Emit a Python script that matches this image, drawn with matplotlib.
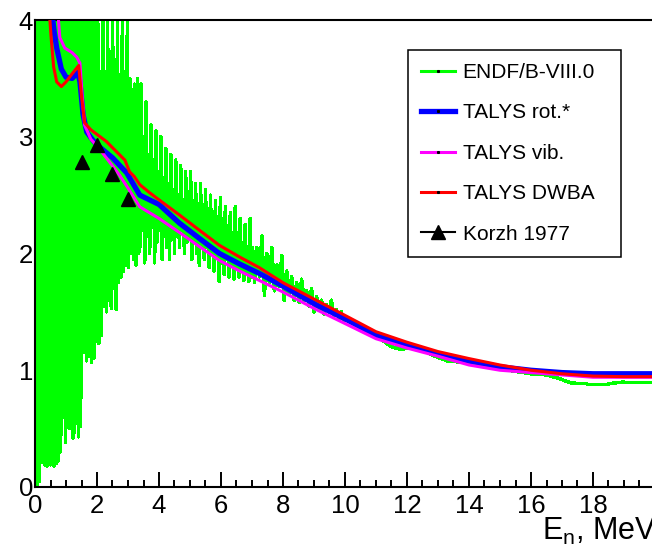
import matplotlib.pyplot as plt
from matplotlib.collections import LineCollection
from matplotlib.lines import Line2D
from matplotlib.ticker import MultipleLocator

plt.rcParams['font.family'] = ['Liberation Sans', 'DejaVu Sans']
plt.rcParams['mathtext.fontset'] = 'custom'
plt.rcParams['mathtext.rm'] = 'Liberation Sans'
plt.rcParams['mathtext.it'] = 'Liberation Sans:italic'

# ENDF/B-VIII.0 evaluation, MeV / barn (resonance region is very dense)
endf_e = [
    0.00, 0.02, 0.05, 0.08, 0.11, 0.14, 0.17, 0.20, 0.23, 0.26,
    0.29, 0.32, 0.35, 0.38, 0.41, 0.44, 0.47, 0.50, 0.53, 0.56,
    0.59, 0.62, 0.65, 0.68, 0.71, 0.74, 0.77, 0.80, 0.83, 0.86,
    0.89, 0.92, 0.95, 0.98, 1.01, 1.04, 1.07, 1.10, 1.13, 1.16,
    1.19, 1.22, 1.25, 1.28, 1.31, 1.34, 1.37, 1.40, 1.43, 1.46,
    1.50, 1.54, 1.58, 1.62, 1.66, 1.70, 1.74, 1.78, 1.82, 1.86,
    1.90, 1.94, 1.98, 2.02, 2.06, 2.10, 2.14, 2.18, 2.22, 2.26,
    2.30, 2.34, 2.38, 2.42, 2.46, 2.50, 2.54, 2.58, 2.62, 2.66,
    2.70, 2.74, 2.78, 2.82, 2.86, 2.90, 2.94, 2.98, 3.02, 3.06,
    3.10, 3.14, 3.18, 3.22, 3.26, 3.30, 3.34,
    3.38, 3.42, 3.46, 3.50, 3.54, 3.58, 3.62, 3.66, 3.70, 3.74,
    3.78, 3.82, 3.86, 3.90, 3.94, 3.98, 4.02, 4.06, 4.10, 4.14,
    4.18, 4.22, 4.26, 4.30, 4.34, 4.38, 4.42, 4.46, 4.50, 4.54,
    4.58, 4.62, 4.66, 4.70, 4.74, 4.78, 4.82, 4.86, 4.90, 4.94,
    4.98, 5.02, 5.06, 5.10, 5.14, 5.18, 5.22, 5.26, 5.30, 5.34,
    5.38, 5.42, 5.46, 5.50, 5.54, 5.58, 5.62, 5.66, 5.70, 5.74,
    5.78, 5.82, 5.86, 5.90, 5.94, 5.98, 6.02, 6.06, 6.10, 6.14,
    6.18, 6.22, 6.26, 6.30, 6.34, 6.38, 6.42, 6.46, 6.50, 6.54,
    6.58, 6.62, 6.66, 6.70, 6.74, 6.78, 6.82, 6.86, 6.90, 6.94,
    6.98, 7.02,
    7.08, 7.16, 7.24, 7.32,
    7.40, 7.48, 7.56, 7.64, 7.72, 7.80, 7.88, 7.96, 8.04, 8.12,
    8.20, 8.28, 8.36, 8.44, 8.52, 8.60, 8.68, 8.76, 8.84, 8.92,
    9.00, 9.08, 9.16, 9.24, 9.32, 9.40, 9.48, 9.56, 9.64, 9.72,
    9.80, 9.88, 9.96, 10.04,
    10.3, 10.6, 10.9, 11.2, 11.5, 11.8, 12.1, 12.5, 12.9, 13.3,
    13.7, 14.1, 14.5, 15.0, 15.5, 16.0, 16.5, 16.9, 17.3, 17.8,
    18.5, 19.0, 19.5, 20.0,
]
endf_xs = [
    4.6, 0.0, 4.4, 0.02, 4.8, 0.05, 4.5, 0.21, 4.9, 0.25,
    4.3, 0.19, 4.7, 0.18, 5.1, 0.20, 4.4, 0.19, 4.6, 0.21,
    4.8, 0.18, 4.5, 0.20, 5.0, 0.22, 4.4, 0.30, 4.7, 0.45,
    4.9, 0.60, 4.3, 0.38, 4.6, 0.90, 4.8, 0.50, 4.4, 0.62,
    4.7, 0.42, 4.5, 0.47, 4.9, 0.55, 4.4, 0.43, 4.6, 0.52,
    1.11, 4.6, 1.15, 4.4, 1.08, 4.7, 1.12, 4.3, 1.07, 4.5,
    1.10, 4.6, 1.25, 4.3, 1.23, 3.45, 1.30, 4.4, 1.55, 3.4,
    1.50, 4.2, 1.60, 3.5, 1.53, 4.3, 1.70, 3.35, 1.52, 4.1,
    1.75, 3.45, 1.80, 4.2, 1.85, 3.4, 1.90, 4.1, 1.88, 3.5,
    2.00, 3.4, 1.95, 3.45, 1.90, 3.5, 2.00,
    2.05, 3.45, 2.20, 3.00, 1.92, 3.30, 2.15, 2.85, 2.00, 3.10,
    2.25, 2.80, 1.92, 3.05, 2.10, 2.70, 2.20, 3.00, 1.95, 2.65,
    2.15, 2.90, 2.05, 2.60, 1.95, 2.85, 2.20, 2.55, 2.00, 2.80,
    2.15, 2.50, 2.05, 2.75, 2.20, 2.45, 2.00, 2.70, 2.10, 2.50,
    2.15, 2.70, 1.95, 2.40, 2.10, 2.60, 2.00, 2.35, 1.90, 2.60,
    2.05, 2.30, 1.95, 2.55, 2.05, 2.30, 1.88, 2.50, 2.00, 2.25,
    1.85, 2.45, 1.98, 2.20, 1.76, 2.48, 1.92, 2.15, 1.82, 2.40,
    1.95, 2.15, 1.80, 2.35, 1.90, 2.10, 1.78, 2.40, 1.88, 2.05,
    1.80, 2.30, 1.85, 2.05, 1.77, 2.25, 1.85, 2.00, 1.76, 2.30,
    1.80, 2.05,
    1.75, 2.05, 1.80, 2.15,
    1.64, 2.00, 1.75, 2.05, 1.68, 1.90, 1.72, 1.98, 1.60, 1.85,
    1.66, 1.80, 1.60, 1.75, 1.58, 1.78, 1.60, 1.68, 1.55, 1.70,
    1.50, 1.63, 1.52, 1.60, 1.48, 1.56, 1.50, 1.60, 1.46, 1.52,
    1.44, 1.50, 1.42, 1.45,
    1.40, 1.36, 1.29, 1.26, 1.20, 1.18, 1.19, 1.17, 1.12, 1.08,
    1.07, 1.06, 1.04, 1.01, 0.99, 0.97, 0.96, 0.93, 0.89, 0.885,
    0.885, 0.90, 0.90, 0.90,
]

# TALYS, rotational model
rot_e = [0.50, 0.55, 0.62, 0.70, 0.85, 1.00, 1.20, 1.38, 1.45, 1.55,
         1.67, 1.87, 2.00, 2.50, 2.96, 3.38, 4.00, 4.66, 5.30, 5.95,
         6.60, 7.23, 8.00, 9.07, 10.0, 11.0, 12.0, 13.0, 14.0, 15.0,
         16.0, 17.0, 18.0, 19.0, 20.0]
rot_xs = [4.30, 4.05, 3.90, 3.76, 3.58, 3.51, 3.50, 3.55, 3.47, 3.19,
          3.04, 2.97, 2.93, 2.82, 2.69, 2.50, 2.42, 2.26, 2.13, 2.00,
          1.91, 1.83, 1.72, 1.56, 1.44, 1.30, 1.22, 1.14, 1.08, 1.03,
          1.00, 0.98, 0.97, 0.97, 0.97]

# TALYS, vibrational model
vib_e = [0.70, 0.80, 0.96, 1.20, 1.35, 1.45, 1.52, 1.60, 1.80, 2.00,
         2.30, 2.73, 3.00, 3.38, 4.00, 4.66, 5.30, 5.95, 6.60, 7.23,
         8.00, 9.07, 10.0, 11.0, 12.0, 13.0, 14.0, 15.0, 16.0, 17.0,
         18.0, 19.0, 20.0]
vib_xs = [4.20, 3.85, 3.76, 3.72, 3.68, 3.63, 3.35, 3.10, 2.98, 2.92,
          2.82, 2.67, 2.56, 2.40, 2.30, 2.18, 2.06, 1.94, 1.85, 1.77,
          1.67, 1.52, 1.40, 1.27, 1.19, 1.12, 1.045, 1.00, 0.98, 0.96,
          0.94, 0.94, 0.94]

# TALYS, DWBA
dwba_e = [0.42, 0.48, 0.52, 0.60, 0.70, 0.85, 1.00, 1.20, 1.41, 1.50,
          1.60, 1.80, 2.00, 2.30, 2.60, 2.90, 3.05, 3.20, 3.38, 3.70,
          4.00, 4.66, 5.30, 5.95, 6.60, 7.23, 8.00, 9.07, 10.0, 11.0,
          12.0, 13.0, 14.0, 15.0, 16.0, 17.0, 18.0, 19.0, 20.0]
dwba_xs = [4.30, 4.00, 3.85, 3.60, 3.47, 3.43, 3.47, 3.54, 3.61, 3.35,
           3.12, 3.06, 3.02, 2.96, 2.88, 2.80, 2.70, 2.66, 2.59, 2.52,
           2.46, 2.33, 2.20, 2.07, 1.97, 1.88, 1.75, 1.60, 1.47, 1.33,
           1.24, 1.16, 1.10, 1.045, 1.00, 0.97, 0.95, 0.945, 0.945]

# measurement
korzh_e = [1.5, 2.0, 2.5, 3.0]
korzh_xs = [2.78, 2.93, 2.68, 2.47]

labels = ['ENDF/B-VIII.0', 'TALYS rot.*', 'TALYS vib.', 'TALYS DWBA', 'Korzh 1977']
green, blue, magenta, red = '#00ff00', '#0000ff', '#ff00ff', '#ff0000'

fig = plt.figure(figsize=(6.52, 5.51), dpi=100)
ax = fig.add_axes([35 / 652, 64 / 551, 620 / 652, 467 / 551])

# the ENDF zigzag is stroked segment by segment and without antialiasing,
# so the dense resonance part comes out as a solid band
endf_pts = list(zip(endf_e, endf_xs))
endf_segs = [[p, q] for p, q in zip(endf_pts[:-1], endf_pts[1:])]
ax.add_collection(LineCollection(endf_segs, colors=green, linewidths=1.8,
                                 capstyle='round', antialiaseds=False, zorder=2))
ax.plot(rot_e, rot_xs, color=blue, lw=3.8, zorder=3)
ax.plot(vib_e, vib_xs, color=magenta, lw=2.2, zorder=4)
ax.plot(dwba_e, dwba_xs, color=red, lw=2.2, zorder=5)
ax.plot(korzh_e, korzh_xs, ls='none', marker='^', ms=9.5, color='black', zorder=6)

ax.set_xlim(0, 20)
ax.set_ylim(0, 4)
ax.set_axisbelow(True)
ax.xaxis.set_minor_locator(MultipleLocator(0.5))
ax.set_xticks(range(0, 20, 2))
ax.set_yticks(range(0, 5))
ax.tick_params(axis='x', which='major', direction='in', length=10.8, width=1.4,
               labelsize=18.5, pad=5)
ax.tick_params(axis='x', which='minor', direction='in', length=5.4, width=1.4)
ax.tick_params(axis='y', which='major', direction='in', length=10, width=1.4,
               labelsize=18.5, pad=1.5)
for side in ['left', 'bottom', 'top']:
    ax.spines[side].set_linewidth(1.5)
ax.spines['right'].set_visible(False)

fig.text(542 / 652, 1 - 540 / 551, r'E$_\mathregular{n}$, MeV', fontsize=22,
         ha='left', va='baseline')

handles = [
    Line2D([], [], color=green, lw=2.2, marker='s', ms=1.2, mfc='k', mec='k'),
    Line2D([], [], color=blue, lw=3.8, marker='s', ms=1.2, mfc='k', mec='k'),
    Line2D([], [], color=magenta, lw=2.2, marker='s', ms=1.2, mfc='k', mec='k'),
    Line2D([], [], color=red, lw=2.2, marker='s', ms=1.2, mfc='k', mec='k'),
    Line2D([], [], color='black', lw=1.5, marker='^', ms=9.5),
]
leg = ax.legend(handles, labels, loc='upper left', mode='expand',
                bbox_to_anchor=(408 / 652, 1 - 254 / 551, 213 / 652, 204 / 551),
                bbox_transform=fig.transFigure, borderaxespad=0,
                fontsize=15, handlelength=1.65, handletextpad=0.35,
                borderpad=0.62, labelspacing=1.03, numpoints=1,
                fancybox=False, framealpha=1, edgecolor='black')
leg.get_frame().set_linewidth(1.1)

fig.savefig('out.png', dpi=100)
